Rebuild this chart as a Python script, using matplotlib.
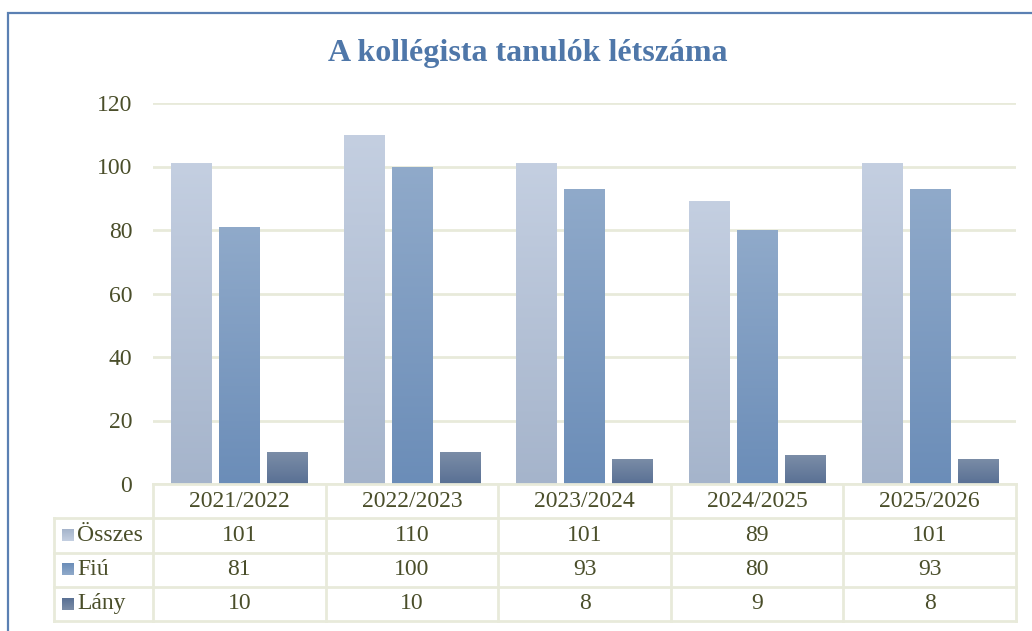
import matplotlib
matplotlib.use("Agg")
import matplotlib.pyplot as plt
import numpy as np
from matplotlib.colors import LinearSegmentedColormap
from matplotlib.patches import Rectangle

years = ["2021/2022", "2022/2023", "2023/2024", "2024/2025", "2025/2026"]
series_names = ["Összes", "Fiú", "Lány"]
osszes = [101, 110, 101, 89, 101]
fiu = [81, 100, 93, 80, 93]
lany = [10, 10, 8, 9, 8]
yticks = [0, 20, 40, 60, 80, 100, 120]
title = "A kollégista tanulók létszáma"

series = [osszes, fiu, lany]
grad = [("#C4CFE1", "#A5B4CB"), ("#90AACA", "#6B8DB8"), ("#7B8DA7", "#597094")]
text_color = "#4A4E2A"
grid_color = "#E8EADA"
serif = ["Liberation Serif", "DejaVu Serif"]

W, H = 1032, 631
fig = plt.figure(figsize=(W / 100, H / 100), dpi=100)

def fx(px):
    return px / W

def fy(py):
    return 1 - py / H

# main plot axes: x 153..1016, y 103..484
L, R, T, B = 153, 1016, 103, 484
ax = fig.add_axes([fx(L), fy(B), fx(R - L), (B - T) / H])
ax.set_xlim(-0.5, len(years) - 0.5)
ax.set_ylim(0, 120)
for s in ax.spines.values():
    s.set_visible(False)
ax.set_yticks(yticks)
ax.set_yticklabels([str(v) for v in yticks], fontsize=17, color=text_color, family=serif)
ax.tick_params(axis="y", length=0, pad=15)
ax.set_xticks([])
ax.yaxis.grid(True, color=grid_color, linewidth=2)
ax.set_axisbelow(True)

bw = 0.232
offsets = [-0.278, 0.0, 0.278]
x = np.arange(len(years))
for i, (vals, (ctop, cbot)) in enumerate(zip(series, grad)):
    bars = ax.bar(x + offsets[i], vals, width=bw, color="none", edgecolor="none", zorder=2)
    cmap = LinearSegmentedColormap.from_list("g%d" % i, [cbot, ctop])
    g = np.linspace(0, 1, 256).reshape(-1, 1)
    for b in bars:
        x0, y0, w, h = b.get_x(), b.get_y(), b.get_width(), b.get_height()
        im = ax.imshow(g, cmap=cmap, origin="lower", aspect="auto",
                       extent=(x0, x0 + w, y0, y0 + h), zorder=2)
        im.set_clip_path(b)
ax.set_xlim(-0.5, len(years) - 0.5)
ax.set_ylim(0, 120)

# title
fig.text(fx(528), fy(54), title, ha="center", va="center",
         fontsize=23, fontweight="bold", color="#4F77A9", family=serif)

# table axes: x 54..1016, y 484..621
TL, TB = 54, 621
cw = (R - L) / len(years)
left_units = -0.5 - (L - TL) / cw
tax = fig.add_axes([fx(TL), fy(TB), fx(R - TL), (TB - B) / H])
tax.set_xlim(left_units, len(years) - 0.5)
tax.set_ylim(4, 0)
tax.axis("off")
lw = 2
tax.plot([-0.5, len(years) - 0.5], [0, 0], color=grid_color, lw=lw, clip_on=False)
for r in [1, 2, 3, 4]:
    tax.plot([left_units, len(years) - 0.5], [r, r], color=grid_color, lw=lw, clip_on=False)
tax.plot([left_units, left_units], [1, 4], color=grid_color, lw=lw, clip_on=False)
for c in range(len(years) + 1):
    tax.plot([c - 0.5, c - 0.5], [0, 4], color=grid_color, lw=lw, clip_on=False)
for j, yr in enumerate(years):
    tax.text(j, 0.5, yr, ha="center", va="center", fontsize=17, color=text_color, family=serif)
key_w = 12 / cw
for i, (name, vals, (ctop, cbot)) in enumerate(zip(series_names, series, grad)):
    yc = i + 1.5
    kx0 = left_units + 8 / cw
    cmap = LinearSegmentedColormap.from_list("k%d" % i, [cbot, ctop])
    g = np.linspace(0, 1, 64).reshape(-1, 1)
    tax.imshow(g, cmap=cmap, origin="upper", aspect="auto",
               extent=(kx0, kx0 + key_w, yc + 0.17, yc - 0.17), zorder=3)
    tax.text(kx0 + key_w + 3 / cw, yc, name, ha="left", va="center", fontsize=17,
             color=text_color, family=serif)
    for j, v in enumerate(vals):
        tax.text(j, yc, str(v), ha="center", va="center", fontsize=17,
                 color=text_color, family=serif)
tax.set_xlim(left_units, len(years) - 0.5)
tax.set_ylim(4, 0)

# outer frame
fig.patches.append(Rectangle((fx(8), fy(700)), fx(1100), (700 - 13) / H,
                             transform=fig.transFigure, fill=False,
                             edgecolor="#5B80B3", linewidth=1.6, zorder=0))

fig.savefig("out.png", dpi=100)
